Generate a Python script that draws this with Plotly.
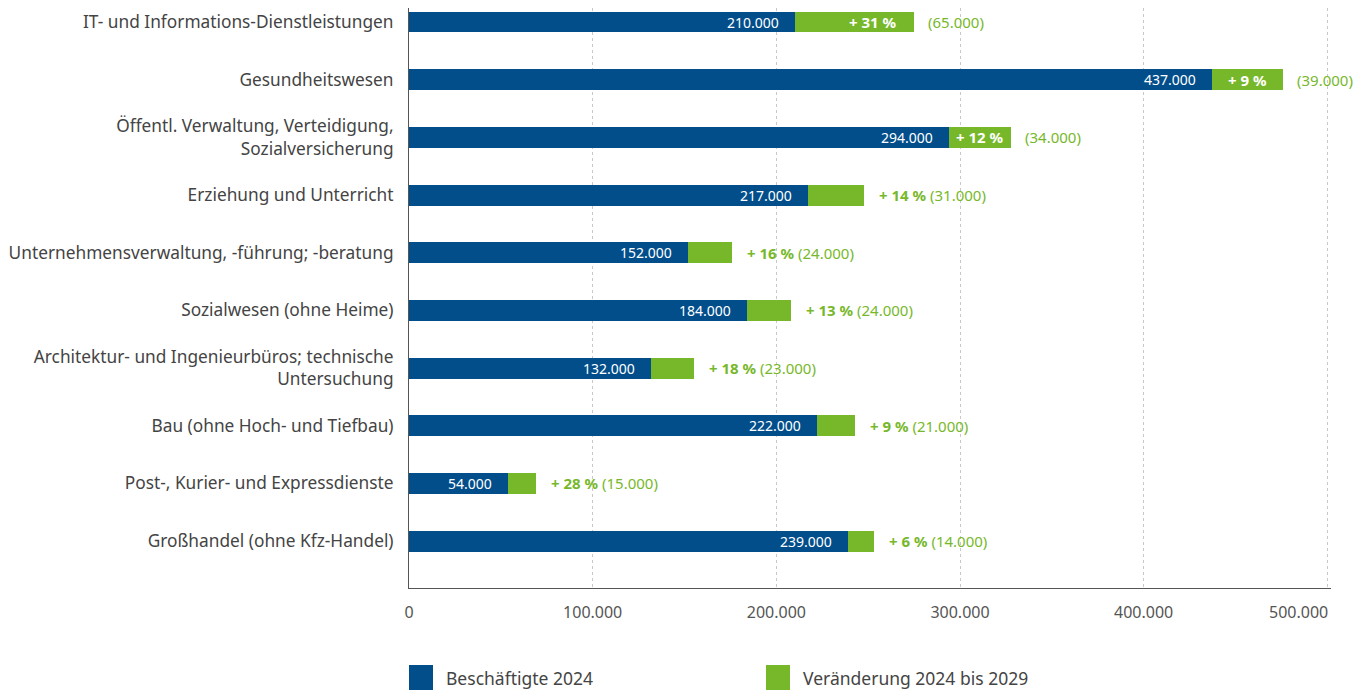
import plotly.graph_objects as go

categories = [
    "IT- und Informations-Dienstleistungen",
    "Gesundheitswesen",
    "Öffentl. Verwaltung, Verteidigung,<br>Sozialversicherung",
    "Erziehung und Unterricht",
    "Unternehmensverwaltung, -führung; -beratung",
    "Sozialwesen (ohne Heime)",
    "Architektur- und Ingenieurbüros; technische<br>Untersuchung",
    "Bau (ohne Hoch- und Tiefbau)",
    "Post-, Kurier- und Expressdienste",
    "Großhandel (ohne Kfz-Handel)",
]
employed_2024 = [210000, 437000, 294000, 217000, 152000, 184000, 132000, 222000, 54000, 239000]
change_2024_2029 = [65000, 39000, 34000, 31000, 24000, 24000, 23000, 21000, 15000, 14000]
change_pct = [31, 9, 12, 14, 16, 13, 18, 9, 28, 6]
pct_inside = [True, True, True, False, False, False, False, False, False, False]
x_ticks = [0, 100000, 200000, 300000, 400000, 500000]
x_max = 502000

BLUE = "#024e8b"
GREEN = "#77b82b"
FONT = "Noto Sans"

def fmt(v):
    return f"{v:,.0f}".replace(",", ".")

fig = go.Figure()
fig.add_trace(go.Bar(
    y=categories, x=employed_2024, orientation="h", name="Beschäftigte 2024",
    marker=dict(color=BLUE, line=dict(width=0)), hoverinfo="x+y",
))
fig.add_trace(go.Bar(
    y=categories, x=change_2024_2029, orientation="h", name="Veränderung 2024 bis 2029",
    marker=dict(color=GREEN, line=dict(width=0)), hoverinfo="x+y",
))

annotations = []
for cat, base, ch, pct, inside in zip(categories, employed_2024, change_2024_2029, change_pct, pct_inside):
    annotations.append(dict(
        x=base, y=cat, xref="x", yref="y", text=fmt(base), showarrow=False,
        xanchor="right", xshift=-14, font=dict(family=FONT, size=14, color="white"),
    ))
    total = base + ch
    if inside:
        if ch >= 50000:
            pos = dict(x=total, xanchor="right", xshift=-15)
        else:
            pos = dict(x=base + ch / 2, xanchor="center", xshift=0)
        annotations.append(dict(
            y=cat, xref="x", yref="y", text=f"<b>+ {pct} %</b>", showarrow=False,
            font=dict(family=FONT, size=15, color="white"), **pos,
        ))
        annotations.append(dict(
            x=total, y=cat, xref="x", yref="y", text=f"({fmt(ch)})", showarrow=False,
            xanchor="left", xshift=12, font=dict(family=FONT, size=15, color=GREEN),
        ))
    else:
        annotations.append(dict(
            x=total, y=cat, xref="x", yref="y", text=f"<b>+ {pct} %</b> ({fmt(ch)})", showarrow=False,
            xanchor="left", xshift=13, font=dict(family=FONT, size=15, color=GREEN),
        ))

# Page offset of the figure inside the browser (body margin)
OFF = 8
W, H = 1363 - OFF, 691 - OFF
PLOT_W = round(918 * x_max / 500000)
ML, MT, MB = 409 - OFF, 0, 103
MR = W - ML - PLOT_W
pw, ph = PLOT_W, H - MT - MB

def px_x(px):  # screen px -> paper
    return (px - OFF - ML) / pw

def px_y(py):
    return (H - MB - (py - OFF)) / ph

legend_items = [("Beschäftigte 2024", BLUE, 409), ("Veränderung 2024 bis 2029", GREEN, 766)]
shapes = []
for label, col, x0 in legend_items:
    shapes.append(dict(type="rect", xref="paper", yref="paper",
                       x0=px_x(x0), x1=px_x(x0 + 24), y0=px_y(690), y1=px_y(665),
                       fillcolor=col, line=dict(width=0)))
    annotations.append(dict(x=px_x(x0 + 35), y=px_y(678), xref="paper", yref="paper",
                            text=label, showarrow=False, xanchor="left", yanchor="middle",
                            font=dict(family=FONT, size=17.5, color="#444444")))

# category axis range so that bar centres fall at the reference positions
spacing = 57.67
top_range = -(22 - OFF) / spacing
bottom_range = 9 + (588 - 541) / spacing

TICKFONT = dict(family=FONT, size=16, color="#555555")
tick_text = [fmt(v) for v in x_ticks]
# last label is right-aligned to its gridline (as in the reference)
annotations.append(dict(x=x_ticks[-1], y=px_y(612), xref="x", yref="paper",
                        text=tick_text[-1], showarrow=False, xanchor="right", xshift=3,
                        yanchor="middle", font=TICKFONT))
tick_text[-1] = ""

fig.update_layout(
    width=W, height=H,
    margin=dict(l=ML, r=MR, t=MT, b=MB, autoexpand=False),
    barmode="stack", bargap=0.636,
    showlegend=False,
    plot_bgcolor="white", paper_bgcolor="white",
    font=dict(family=FONT, color="#444444"),
    annotations=annotations, shapes=shapes,
    xaxis=dict(
        range=[0, x_max], tickvals=x_ticks, ticktext=tick_text, automargin=False,
        showgrid=True, gridcolor="#c8c8c8", griddash="dot", gridwidth=1,
        showline=True, linecolor="#555555", linewidth=1, zeroline=False,
        ticks="", ticklabelstandoff=10, tickfont=TICKFONT,
    ),
    yaxis=dict(
        categoryorder="array", categoryarray=categories, automargin=False,
        range=[bottom_range, top_range],
        showline=True, linecolor="#555555", linewidth=1, showgrid=False,
        ticks="", ticklabelstandoff=11, tickfont=dict(family=FONT, size=17.3, color="#444444"),
    ),
)

fig.write_html("out.html")
